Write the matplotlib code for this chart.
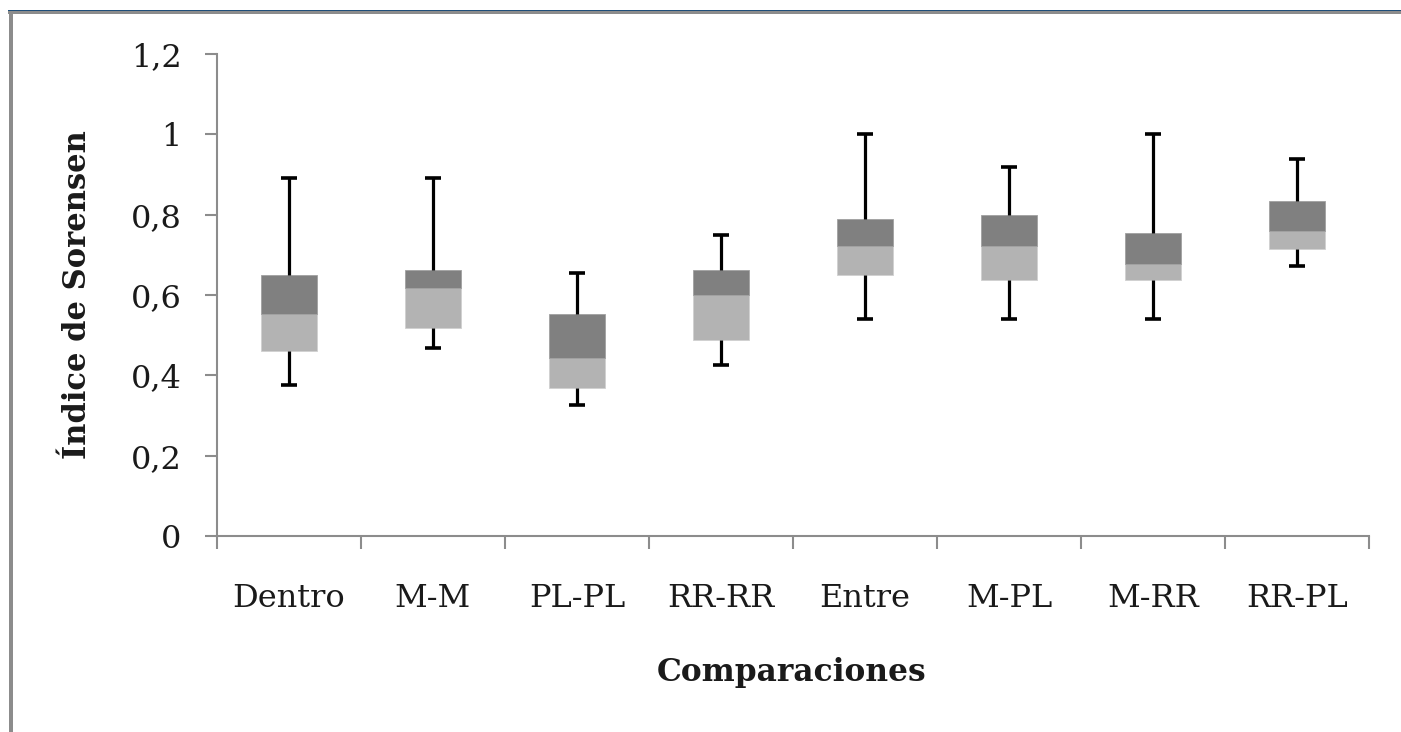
import matplotlib
matplotlib.use("Agg")
import matplotlib.pyplot as plt
from matplotlib.patches import Rectangle
import numpy as np

categories = ["Dentro", "M-M", "PL-PL", "RR-RR", "Entre", "M-PL", "M-RR", "RR-PL"]
whisker_low = [0.375, 0.467, 0.325, 0.425, 0.54, 0.54, 0.54, 0.673]
q1 = [0.46, 0.518, 0.368, 0.487, 0.65, 0.637, 0.637, 0.715]
median = [0.553, 0.617, 0.444, 0.60, 0.722, 0.722, 0.677, 0.76]
q3 = [0.65, 0.663, 0.553, 0.663, 0.79, 0.80, 0.754, 0.833]
whisker_high = [0.891, 0.891, 0.654, 0.75, 1.0, 0.919, 1.0, 0.938]
yticks = [0, 0.2, 0.4, 0.6, 0.8, 1.0, 1.2]
ytick_labels = ["0", "0,2", "0,4", "0,6", "0,8", "1", "1,2"]

W, H = 1401, 732
fig = plt.figure(figsize=(W / 100, H / 100), dpi=100)
ax = fig.add_axes([217 / W, 1 - 536 / H, (1369 - 217) / W, (536 - 54) / H])

x = np.arange(len(categories)) + 0.5
lo, a, m, b, hi = map(np.array, (whisker_low, q1, median, q3, whisker_high))

ax.bar(x, m - a, bottom=a, width=0.39, color="#b3b3b3", edgecolor="#d0d0d0", lw=0.6, zorder=2)
ax.bar(x, b - m, bottom=m, width=0.39, color="#808080", edgecolor="#a0a0a0", lw=0.6, zorder=2)
ax.vlines(x, b, hi, color="black", lw=2.3, zorder=3)
ax.vlines(x, lo, a, color="black", lw=2.3, zorder=3)
cap = 0.055
ax.hlines(hi, x - cap, x + cap, color="black", lw=2.6, zorder=3)
ax.hlines(lo, x - cap, x + cap, color="black", lw=2.6, zorder=3)

ax.set_xlim(0, len(categories))
ax.set_ylim(0, 1.2)
ax.set_yticks(yticks)
ax.set_yticklabels(ytick_labels)
ax.set_xticks(np.arange(len(categories) + 1))
ax.set_xticklabels([])
ax.set_xticks(x, minor=True)
ax.set_xticklabels(categories, minor=True)

for s in ("top", "right"):
    ax.spines[s].set_visible(False)
for s in ("left", "bottom"):
    ax.spines[s].set_color("#8c8c8c")
    ax.spines[s].set_linewidth(1.5)

tick_font = dict(family="DejaVu Serif", size=23)
ax.tick_params(axis="y", which="major", direction="out", length=8.6, width=1.5,
               color="#8c8c8c", pad=17)
ax.tick_params(axis="x", which="major", direction="out", length=9.5, width=1.5, color="#8c8c8c")
ax.tick_params(axis="x", which="minor", length=0, pad=34)
for lab in ax.get_yticklabels() + ax.get_xticklabels(minor=True):
    lab.set_fontfamily("DejaVu Serif")
    lab.set_fontsize(23)
    lab.set_color("#1a1a1a")

fig.text(792 / W, 1 - 672 / H, "Comparaciones", ha="center", va="center",
         family="DejaVu Serif", weight="bold", size=22.5, color="#1a1a1a")
fig.text(78 / W, 1 - 295 / H, "Índice de Sorensen", ha="center", va="center", rotation=90,
         family="DejaVu Serif", weight="bold", size=22, color="#1a1a1a")

# outer frame of the embedded chart
fig.add_artist(Rectangle((8 / W, 1 - 11 / H), 1 - 8 / W, 1.2 / H, transform=fig.transFigure,
                         color="#1f4e79", lw=0))
fig.add_artist(Rectangle((8 / W, 1 - 14 / H), 1 - 8 / W, 3 / H, transform=fig.transFigure,
                         color="#8c8c8c", lw=0))
fig.add_artist(Rectangle((9 / W, 0), 4 / W, 1 - 12 / H, transform=fig.transFigure,
                         color="#8c8c8c", lw=0))

fig.savefig("out.png", dpi=100)
